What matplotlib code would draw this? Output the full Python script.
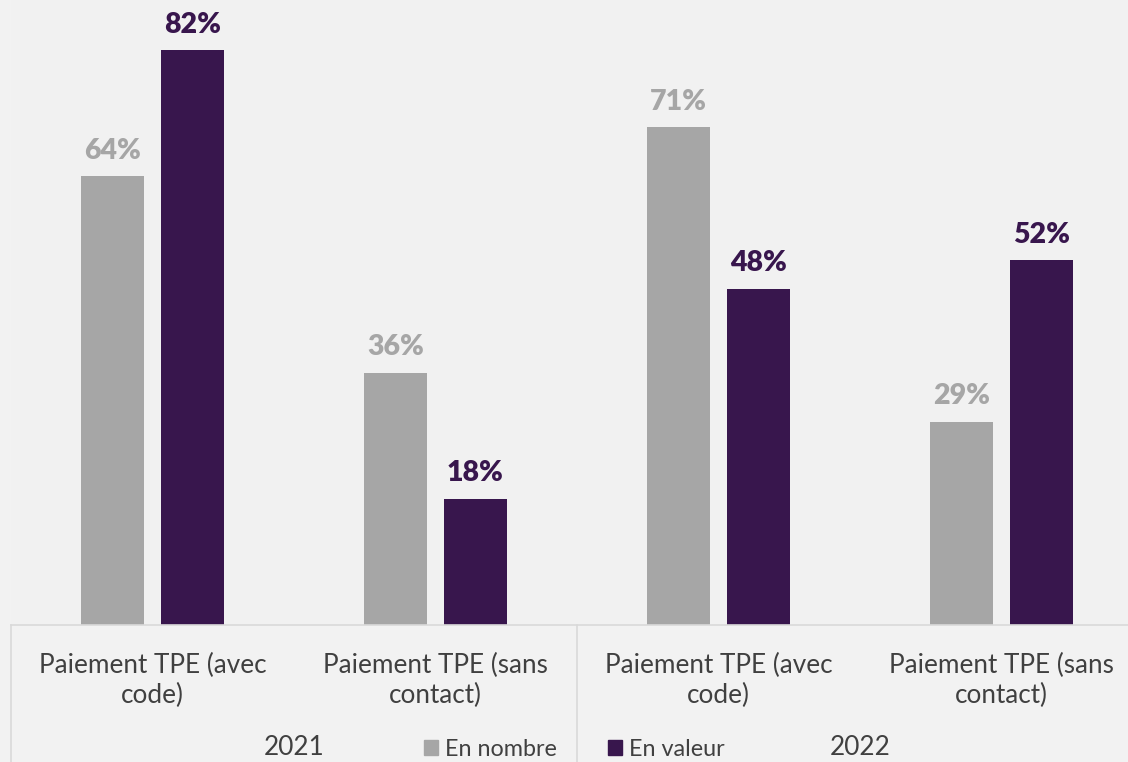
import matplotlib
matplotlib.use("Agg")
import matplotlib.pyplot as plt
import numpy as np
from matplotlib.lines import Line2D
from matplotlib.patches import Patch
import matplotlib.transforms as mtrans

categories = ["Paiement TPE (avec\ncode)", "Paiement TPE (sans\ncontact)",
              "Paiement TPE (avec\ncode)", "Paiement TPE (sans\ncontact)"]
years = ["2021", "2022"]
en_nombre = [64, 36, 71, 29]
en_valeur = [82, 18, 48, 52]
series_names = ["En nombre", "En valeur"]

GRAY = "#A6A6A6"
PURPLE = "#38164D"
BG = "#F1F1F1"
LINE = "#D9D9D9"
TEXT = "#404040"

plt.rcParams['font.family'] = ['Lato', 'DejaVu Sans']

W, H = 1128, 762
fig = plt.figure(figsize=(W / 100, H / 100), dpi=100, facecolor="#F2F2F2")

def fx(px):
    return px / W

def fy(py):
    return (H - py) / H

base_y = 625
ax = fig.add_axes([fx(11), fy(base_y), fx(W - 11), base_y / H])
ax.set_facecolor(BG)

x = np.arange(len(categories))
bw = 0.223
off = 0.141
b1 = ax.bar(x - off, en_nombre, bw, color=GRAY, label=series_names[0])
b2 = ax.bar(x + off, en_valeur, bw, color=PURPLE, label=series_names[1])

for bars, vals, col in [(b1, en_nombre, GRAY), (b2, en_valeur, PURPLE)]:
    for r, v in zip(bars, vals):
        ax.annotate(f"{v}%", (r.get_x() + r.get_width() / 2, v),
                    xytext=(0, 9), textcoords="offset points",
                    ha="center", va="bottom", fontsize=20.5, fontweight="heavy",
                    color=col)

ax.set_xlim(-0.5, -0.5 + (W - 11) / 283.0)
ax.set_ylim(0, base_y / 7.01)
ax.set_yticks([])
ax.set_xticks(x)
ax.set_xticklabels(categories, fontsize=18.8, color=TEXT, linespacing=1.25)
ax.tick_params(axis="x", length=0, pad=20)
for s in ["top", "right", "left"]:
    ax.spines[s].set_visible(False)
ax.spines["bottom"].set_color(LINE)
ax.spines["bottom"].set_linewidth(1.2)

# separators in the category area
trans = mtrans.blended_transform_factory(ax.transData, fig.transFigure)
for xv in [-0.5, 1.5]:
    fig.add_artist(Line2D([xv, xv], [fy(base_y), 0], transform=trans,
                          color=LINE, lw=1.2))

# year labels
for i, yr in enumerate(years):
    fig.text(2 * i + 0.5, fy(760), yr, transform=trans, fontsize=18.8,
             color=TEXT, ha="center", va="bottom")

handles = [Patch(color=GRAY), Patch(color=PURPLE)]
fig.legend(handles, series_names, loc="center",
           bbox_to_anchor=(fx(574), fy(749)), ncol=2, frameon=False,
           fontsize=16.8, handlelength=0.6, handleheight=0.6,
           handletextpad=0.3, columnspacing=2.2, labelcolor=TEXT)

fig.savefig("out.png", dpi=100, facecolor=fig.get_facecolor())
